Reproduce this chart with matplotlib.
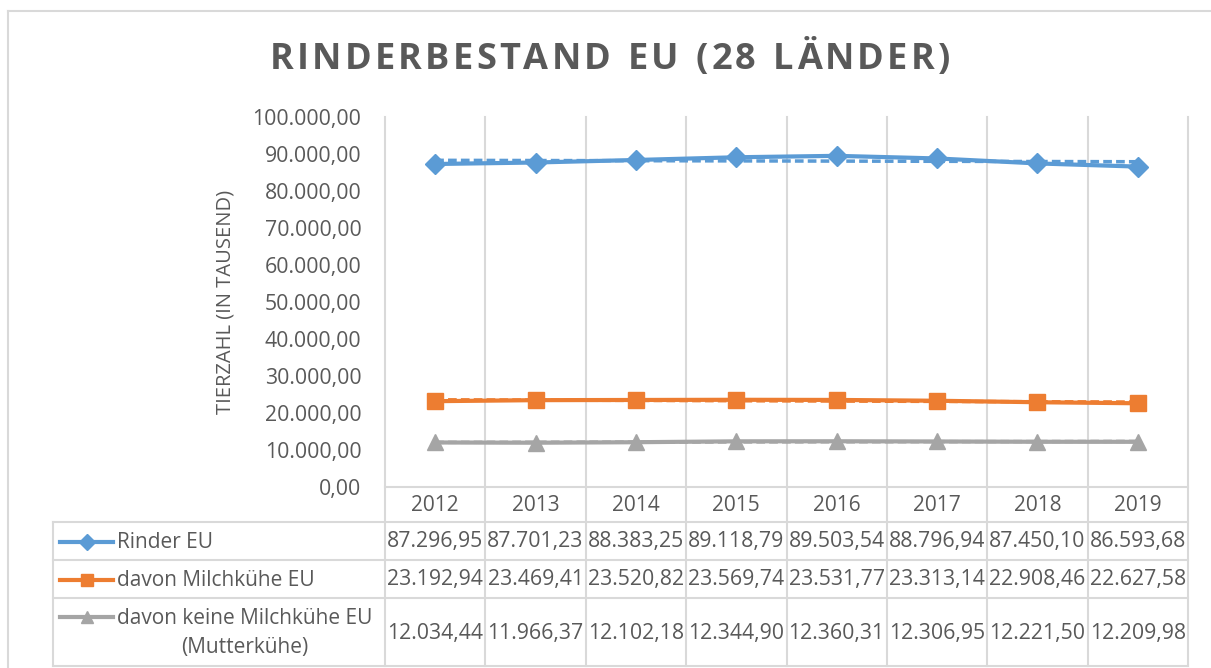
import numpy as np
import matplotlib
matplotlib.use("Agg")
import matplotlib.pyplot as plt
from matplotlib.lines import Line2D

# --- data ---
years = ["2012", "2013", "2014", "2015", "2016", "2017", "2018", "2019"]
rinder = [87296.95, 87701.23, 88383.25, 89118.79, 89503.54, 88796.94, 87450.10, 86593.68]
milchkuehe = [23192.94, 23469.41, 23520.82, 23569.74, 23531.77, 23313.14, 22908.46, 22627.58]
mutterkuehe = [12034.44, 11966.37, 12102.18, 12344.90, 12360.31, 12306.95, 12221.50, 12209.98]
series_labels = ["Rinder EU", "davon Milchkühe EU", "davon keine Milchkühe EU\n(Mutterkühe)"]

title = "RINDERBESTAND EU (28 LÄNDER)"
ylabel = "TIERZAHL (IN TAUSEND)"
yticks = [0, 10000, 20000, 30000, 40000, 50000, 60000, 70000, 80000, 90000, 100000]

# --- styles ---
COLORS = ["#5B9BD5", "#ED7D31", "#A5A5A5"]
MARKERS = ["D", "s", "^"]
MSIZES = [10, 11, 11]
TEXT = "#595959"
GRID = "#D9D9D9"
FONT = "Open Sans"

W, H = 1211, 668
# layout in pixels
PL, PR, PT, PB = 385, 1188, 117, 487
ROWS = [487, 522, 560, 598, 666]
TABLE_LEFT = 53


def de_fmt(v):
    s = f"{v:,.2f}"
    return s.replace(",", "X").replace(".", ",").replace("X", ".")


fig = plt.figure(figsize=(W / 100, H / 100), dpi=100)
fig.patch.set_facecolor("white")

# overlay in pixel coordinates for table / borders
ov = fig.add_axes([0, 0, 1, 1], zorder=0)
ov.set_xlim(0, W)
ov.set_ylim(H, 0)
ov.axis("off")

ax = fig.add_axes([PL / W, (H - PB) / H, (PR - PL) / W, (PB - PT) / H], zorder=2)
ax.patch.set_alpha(0)

all_series = [rinder, milchkuehe, mutterkuehe]
x = np.arange(len(years))
for vals, c, m, ms in zip(all_series, COLORS, MARKERS, MSIZES):
    ax.plot(x, vals, color=c, lw=3, marker=m, markersize=ms, zorder=3)
    # linear trend line (Excel style)
    k, d = np.polyfit(x, vals, 1)
    ax.plot(x, k * x + d, color=c, lw=2.5, ls=(0, (2.5, 1.2)), zorder=2)

ax.set_xlim(-0.5, len(years) - 0.5)
ax.set_ylim(0, 100000)
ax.set_yticks(yticks)
ax.set_yticklabels([de_fmt(v) for v in yticks], fontsize=15.3, color=TEXT, family=FONT)
ax.tick_params(axis="y", length=0, pad=17)
ax.set_xticks([])
for s in ["top", "right", "left"]:
    ax.spines[s].set_visible(False)
ax.spines["bottom"].set_color(GRID)
ax.spines["bottom"].set_linewidth(1.5)
ax.set_ylabel(ylabel, fontsize=14.5, color=TEXT, family=FONT, labelpad=12)

# title with letter spacing, drawn char by char
renderer = fig.canvas.get_renderer()
tracking = 3.2
widths = []
for ch in title:
    t = ov.text(0, 0, ch if ch != " " else "n", fontsize=26, fontweight="bold", family=FONT)
    bb = t.get_window_extent(renderer)
    widths.append(bb.width * (0.45 if ch == " " else 1.0))
    t.remove()
total = sum(widths) + tracking * (len(title) - 1)
cx = 610 - total / 2
for ch, w in zip(title, widths):
    if ch != " ":
        ov.text(cx, 60, ch, ha="left", va="center", fontsize=26, fontweight="bold",
                color=TEXT, family=FONT)
    cx += w + tracking

# outer chart border
ov.plot([8, W], [11, 11], color=GRID, lw=1.5)
ov.plot([8, 8], [11, H], color=GRID, lw=1.5)

# table + vertical grid
colw = (PR - PL) / len(years)
for i in range(len(years) + 1):
    xx = PL + i * colw
    ov.plot([xx, xx], [PT, ROWS[-1]], color=GRID, lw=1.5, zorder=1)
for yy in ROWS[1:]:
    ov.plot([TABLE_LEFT, PR], [yy, yy], color=GRID, lw=1.5, zorder=1)
ov.plot([TABLE_LEFT, TABLE_LEFT], [ROWS[1], ROWS[-1]], color=GRID, lw=1.5, zorder=1)

for i, yr in enumerate(years):
    ov.text(PL + (i + 0.5) * colw, (ROWS[0] + ROWS[1]) / 2 + 1, yr, ha="center", va="center",
            fontsize=15, color=TEXT, family=FONT)

for r, (vals, lab, c, m, ms) in enumerate(zip(all_series, series_labels, COLORS, MARKERS, MSIZES)):
    yc = (ROWS[r + 1] + ROWS[r + 2]) / 2 + 1
    for i, v in enumerate(vals):
        ov.text(PL + (i + 0.5) * colw, yc, de_fmt(v), ha="center", va="center",
                fontsize=15.3, color=TEXT, family=FONT)
    ly = yc if "\n" not in lab else ROWS[r + 1] + 19
    ov.add_line(Line2D([60, 113], [ly, ly], color=c, lw=3))
    ov.plot([86.5], [ly], marker=m, color=c, markersize=ms * 0.85)
    ov.text(117, yc, lab, ha="left", va="center", multialignment="center",
            fontsize=15, color=TEXT, family=FONT, linespacing=1.45)

fig.savefig("out.png", dpi=100)
